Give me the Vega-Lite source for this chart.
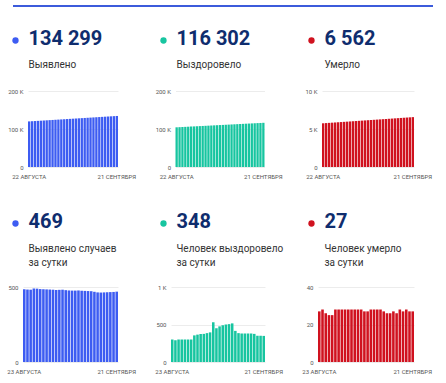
{
  "$schema": "https://vega.github.io/schema/vega-lite/v6.json",
  "background": "white",
  "padding": {"left": 6, "top": 3, "right": 5, "bottom": 5},
  "columns": 1,
  "spacing": 33,
  "resolve": {"scale": {"color": "independent"}, "legend": {"color": "independent"}},
  "config": {
    "font": "Roboto",
    "view": {"stroke": null},
    "axis": {"domain": false, "ticks": false, "labelFont": "Roboto", "labelFontSize": 6, "labelColor": "#555555", "gridColor": "#ececec", "title": null},
    "axisX": {"grid": false, "labelAngle": 0, "labelPadding": 6, "labelOverlap": false},
    "axisY": {"labelPadding": 5},
    "title": {"anchor": "start", "frame": "group", "font": "Roboto", "fontSize": 20, "fontWeight": "bold", "color": "#0f2d6e", "subtitleFont": "Roboto", "subtitleFontSize": 10, "subtitleColor": "#333333", "subtitlePadding": 11, "subtitleLineHeight": 14},
    "legend": {"symbolType": "circle", "symbolSize": 40, "symbolStrokeWidth": 0, "padding": 0, "orient": "none"}
  },
  "concat": [
    {
      "columns": 1,
      "spacing": 20,
      "resolve": {"scale": {"color": "independent"}, "legend": {"color": "independent"}},
      "concat": [
        {"width": 420, "height": 2, "data": {"values": [{}]}, "mark": {"type": "point", "opacity": 0}, "encoding": {}, "view": {"fill": "#3c5bdb", "stroke": null}},
        {
          "bounds": "flush",
          "spacing": 0,
          "resolve": {"scale": {"color": "independent"}, "legend": {"color": "independent"}},
          "hconcat": [
            {"width": 15, "height": 2, "data": {"values": [{}]}, "mark": {"type": "point", "opacity": 0}, "encoding": {}},
            {
              "bounds": "flush",
              "spacing": 57.5,
              "resolve": {"scale": {"color": "independent"}, "legend": {"color": "independent"}},
              "hconcat": [
                {
                  "width": 90, "height": 76,
                  "title": {"text": "134 299", "subtitle": "Выявлено", "offset": -33, "dx": 0.5},
                  "data": {"values": [
                    {"d": "08-22", "v": 120000}, {"d": "08-23", "v": 120477}, {"d": "08-24", "v": 120953}, {"d": "08-25", "v": 121430},
                    {"d": "08-26", "v": 121906}, {"d": "08-27", "v": 122383}, {"d": "08-28", "v": 122860}, {"d": "08-29", "v": 123336},
                    {"d": "08-30", "v": 123813}, {"d": "08-31", "v": 124289}, {"d": "09-01", "v": 124766}, {"d": "09-02", "v": 125243},
                    {"d": "09-03", "v": 125719}, {"d": "09-04", "v": 126196}, {"d": "09-05", "v": 126672}, {"d": "09-06", "v": 127149},
                    {"d": "09-07", "v": 127626}, {"d": "09-08", "v": 128102}, {"d": "09-09", "v": 128579}, {"d": "09-10", "v": 129055},
                    {"d": "09-11", "v": 129532}, {"d": "09-12", "v": 130009}, {"d": "09-13", "v": 130485}, {"d": "09-14", "v": 130962},
                    {"d": "09-15", "v": 131438}, {"d": "09-16", "v": 131915}, {"d": "09-17", "v": 132392}, {"d": "09-18", "v": 132868},
                    {"d": "09-19", "v": 133345}, {"d": "09-20", "v": 133821}, {"d": "09-21", "v": 134299}
                  ]},
                  "mark": {"type": "bar"},
                  "encoding": {
                    "x": {"field": "d", "type": "ordinal", "scale": {"paddingInner": 0.2, "paddingOuter": 0}, "axis": {"values": ["08-22", "09-21"], "labelExpr": "datum.value == '08-22' ? '22 АВГУСТА' : '21 СЕНТЯБРЯ'"}},
                    "y": {"field": "v", "type": "quantitative", "scale": {"domain": [0, 200000]}, "axis": {"values": [0, 100000, 200000], "labelExpr": "datum.value >= 1000 ? (datum.value / 1000) + ' K' : datum.value"}},
                    "color": {"datum": "Выявлено", "scale": {"range": ["#3d5cf2"]}, "legend": {"title": null, "labelExpr": "''", "labelFontSize": 1, "labelOffset": 0, "legendX": -16, "legendY": -54}}
                  }
                },
                {
                  "width": 89, "height": 76,
                  "title": {"text": "116 302", "subtitle": "Выздоровело", "offset": -33, "dx": 1},
                  "data": {"values": [
                    {"d": "08-22", "v": 104450}, {"d": "08-23", "v": 104845}, {"d": "08-24", "v": 105240}, {"d": "08-25", "v": 105635},
                    {"d": "08-26", "v": 106030}, {"d": "08-27", "v": 106426}, {"d": "08-28", "v": 106821}, {"d": "08-29", "v": 107216},
                    {"d": "08-30", "v": 107611}, {"d": "08-31", "v": 108006}, {"d": "09-01", "v": 108401}, {"d": "09-02", "v": 108796},
                    {"d": "09-03", "v": 109191}, {"d": "09-04", "v": 109586}, {"d": "09-05", "v": 109981}, {"d": "09-06", "v": 110376},
                    {"d": "09-07", "v": 110772}, {"d": "09-08", "v": 111167}, {"d": "09-09", "v": 111562}, {"d": "09-10", "v": 111957},
                    {"d": "09-11", "v": 112352}, {"d": "09-12", "v": 112747}, {"d": "09-13", "v": 113142}, {"d": "09-14", "v": 113537},
                    {"d": "09-15", "v": 113932}, {"d": "09-16", "v": 114327}, {"d": "09-17", "v": 114722}, {"d": "09-18", "v": 115117},
                    {"d": "09-19", "v": 115512}, {"d": "09-20", "v": 115907}, {"d": "09-21", "v": 116302}
                  ]},
                  "mark": {"type": "bar"},
                  "encoding": {
                    "x": {"field": "d", "type": "ordinal", "scale": {"paddingInner": 0.2, "paddingOuter": 0}, "axis": {"values": ["08-22", "09-21"], "labelExpr": "datum.value == '08-22' ? '22 АВГУСТА' : '21 СЕНТЯБРЯ'"}},
                    "y": {"field": "v", "type": "quantitative", "scale": {"domain": [0, 200000]}, "axis": {"values": [0, 100000, 200000], "labelExpr": "datum.value >= 1000 ? (datum.value / 1000) + ' K' : datum.value"}},
                    "color": {"datum": "Выздоровело", "scale": {"range": ["#17c5a0"]}, "legend": {"title": null, "labelExpr": "''", "labelFontSize": 1, "labelOffset": 0, "legendX": -15.5, "legendY": -54}}
                  }
                },
                {
                  "width": 92, "height": 76,
                  "title": {"text": "6 562", "subtitle": "Умерло", "offset": -33, "dx": 2.5},
                  "data": {"values": [
                    {"d": "08-22", "v": 5752}, {"d": "08-23", "v": 5779}, {"d": "08-24", "v": 5806}, {"d": "08-25", "v": 5833},
                    {"d": "08-26", "v": 5860}, {"d": "08-27", "v": 5887}, {"d": "08-28", "v": 5914}, {"d": "08-29", "v": 5941},
                    {"d": "08-30", "v": 5968}, {"d": "08-31", "v": 5995}, {"d": "09-01", "v": 6022}, {"d": "09-02", "v": 6049},
                    {"d": "09-03", "v": 6076}, {"d": "09-04", "v": 6103}, {"d": "09-05", "v": 6130}, {"d": "09-06", "v": 6157},
                    {"d": "09-07", "v": 6184}, {"d": "09-08", "v": 6211}, {"d": "09-09", "v": 6238}, {"d": "09-10", "v": 6265},
                    {"d": "09-11", "v": 6292}, {"d": "09-12", "v": 6319}, {"d": "09-13", "v": 6346}, {"d": "09-14", "v": 6373},
                    {"d": "09-15", "v": 6400}, {"d": "09-16", "v": 6427}, {"d": "09-17", "v": 6454}, {"d": "09-18", "v": 6481},
                    {"d": "09-19", "v": 6508}, {"d": "09-20", "v": 6535}, {"d": "09-21", "v": 6562}
                  ]},
                  "mark": {"type": "bar"},
                  "encoding": {
                    "x": {"field": "d", "type": "ordinal", "scale": {"paddingInner": 0.2, "paddingOuter": 0}, "axis": {"values": ["08-22", "09-21"], "labelExpr": "datum.value == '08-22' ? '22 АВГУСТА' : '21 СЕНТЯБРЯ'"}},
                    "y": {"field": "v", "type": "quantitative", "scale": {"domain": [0, 10000]}, "axis": {"values": [0, 5000, 10000], "labelExpr": "datum.value >= 1000 ? (datum.value / 1000) + ' K' : datum.value"}},
                    "color": {"datum": "Умерло", "scale": {"range": ["#d0121f"]}, "legend": {"title": null, "labelExpr": "''", "labelFontSize": 1, "labelOffset": 0, "legendX": -14, "legendY": -54}}
                  }
                }
              ]
            }
          ]
        }
      ]
    },
    {
      "bounds": "flush",
      "spacing": 0,
      "resolve": {"scale": {"color": "independent"}, "legend": {"color": "independent"}},
      "hconcat": [
        {"width": 10, "height": 2, "data": {"values": [{}]}, "mark": {"type": "point", "opacity": 0}, "encoding": {}},
        {
          "bounds": "flush",
          "spacing": 53,
          "resolve": {"scale": {"color": "independent"}, "legend": {"color": "independent"}},
          "hconcat": [
            {
              "width": 95, "height": 75,
              "title": {"text": "469", "subtitle": ["Выявлено случаев", "за сутки"], "offset": -48, "dx": 5.5, "subtitlePadding": 12},
              "data": {"values": [
                {"d": "08-23", "v": 485}, {"d": "08-24", "v": 483}, {"d": "08-25", "v": 482}, {"d": "08-26", "v": 490},
                {"d": "08-27", "v": 489}, {"d": "08-28", "v": 486}, {"d": "08-29", "v": 485}, {"d": "08-30", "v": 484},
                {"d": "08-31", "v": 483}, {"d": "09-01", "v": 482}, {"d": "09-02", "v": 480}, {"d": "09-03", "v": 481},
                {"d": "09-04", "v": 482}, {"d": "09-05", "v": 479}, {"d": "09-06", "v": 477}, {"d": "09-07", "v": 476},
                {"d": "09-08", "v": 476}, {"d": "09-09", "v": 477}, {"d": "09-10", "v": 475}, {"d": "09-11", "v": 474},
                {"d": "09-12", "v": 473}, {"d": "09-13", "v": 472}, {"d": "09-14", "v": 468}, {"d": "09-15", "v": 464},
                {"d": "09-16", "v": 463}, {"d": "09-17", "v": 464}, {"d": "09-18", "v": 465}, {"d": "09-19", "v": 466},
                {"d": "09-20", "v": 467}, {"d": "09-21", "v": 469}
              ]},
              "mark": {"type": "bar"},
              "encoding": {
                "x": {"field": "d", "type": "ordinal", "scale": {"paddingInner": 0.2, "paddingOuter": 0}, "axis": {"values": ["08-23", "09-21"], "labelExpr": "datum.value == '08-23' ? '23 АВГУСТА' : '21 СЕНТЯБРЯ'"}},
                "y": {"field": "v", "type": "quantitative", "scale": {"domain": [0, 500]}, "axis": {"values": [0, 500], "labelExpr": "datum.value >= 1000 ? (datum.value / 1000) + ' K' : datum.value"}},
                "color": {"datum": "Выявлено случаев за сутки", "scale": {"range": ["#3d5cf2"]}, "legend": {"title": null, "labelExpr": "''", "labelFontSize": 1, "labelOffset": 0, "legendX": -11, "legendY": -67}}
              }
            },
            {
              "width": 94, "height": 75,
              "title": {"text": "348", "subtitle": ["Человек выздоровело", "за сутки"], "offset": -48, "dx": 5.5, "subtitlePadding": 12},
              "data": {"values": [
                {"d": "08-23", "v": 300}, {"d": "08-24", "v": 290}, {"d": "08-25", "v": 300}, {"d": "08-26", "v": 300},
                {"d": "08-27", "v": 300}, {"d": "08-28", "v": 300}, {"d": "08-29", "v": 300}, {"d": "08-30", "v": 355},
                {"d": "08-31", "v": 365}, {"d": "09-01", "v": 375}, {"d": "09-02", "v": 375}, {"d": "09-03", "v": 385},
                {"d": "09-04", "v": 395}, {"d": "09-05", "v": 530}, {"d": "09-06", "v": 450}, {"d": "09-07", "v": 475},
                {"d": "09-08", "v": 490}, {"d": "09-09", "v": 500}, {"d": "09-10", "v": 505}, {"d": "09-11", "v": 515},
                {"d": "09-12", "v": 415}, {"d": "09-13", "v": 385}, {"d": "09-14", "v": 380}, {"d": "09-15", "v": 380},
                {"d": "09-16", "v": 380}, {"d": "09-17", "v": 380}, {"d": "09-18", "v": 375}, {"d": "09-19", "v": 350},
                {"d": "09-20", "v": 350}, {"d": "09-21", "v": 348}
              ]},
              "mark": {"type": "bar"},
              "encoding": {
                "x": {"field": "d", "type": "ordinal", "scale": {"paddingInner": 0.2, "paddingOuter": 0}, "axis": {"values": ["08-23", "09-21"], "labelExpr": "datum.value == '08-23' ? '23 АВГУСТА' : '21 СЕНТЯБРЯ'"}},
                "y": {"field": "v", "type": "quantitative", "scale": {"domain": [0, 1000]}, "axis": {"values": [0, 500, 1000], "labelExpr": "datum.value >= 1000 ? (datum.value / 1000) + ' K' : datum.value"}},
                "color": {"datum": "Человек выздоровело за сутки", "scale": {"range": ["#17c5a0"]}, "legend": {"title": null, "labelExpr": "''", "labelFontSize": 1, "labelOffset": 0, "legendX": -11, "legendY": -67}}
              }
            },
            {
              "width": 96, "height": 75,
              "title": {"text": "27", "subtitle": ["Человек умерло", "за сутки"], "offset": -48, "dx": 6.5, "subtitlePadding": 12},
              "data": {"values": [
                {"d": "08-23", "v": 27}, {"d": "08-24", "v": 28}, {"d": "08-25", "v": 26}, {"d": "08-26", "v": 25},
                {"d": "08-27", "v": 25}, {"d": "08-28", "v": 28}, {"d": "08-29", "v": 28}, {"d": "08-30", "v": 28},
                {"d": "08-31", "v": 28}, {"d": "09-01", "v": 28}, {"d": "09-02", "v": 28}, {"d": "09-03", "v": 28},
                {"d": "09-04", "v": 28}, {"d": "09-05", "v": 28}, {"d": "09-06", "v": 27}, {"d": "09-07", "v": 27},
                {"d": "09-08", "v": 28}, {"d": "09-09", "v": 28}, {"d": "09-10", "v": 28}, {"d": "09-11", "v": 28},
                {"d": "09-12", "v": 27}, {"d": "09-13", "v": 26}, {"d": "09-14", "v": 26}, {"d": "09-15", "v": 27},
                {"d": "09-16", "v": 26}, {"d": "09-17", "v": 28}, {"d": "09-18", "v": 27}, {"d": "09-19", "v": 28},
                {"d": "09-20", "v": 27}, {"d": "09-21", "v": 27}
              ]},
              "mark": {"type": "bar"},
              "encoding": {
                "x": {"field": "d", "type": "ordinal", "scale": {"paddingInner": 0.2, "paddingOuter": 0}, "axis": {"values": ["08-23", "09-21"], "labelExpr": "datum.value == '08-23' ? '23 АВГУСТА' : '21 СЕНТЯБРЯ'"}},
                "y": {"field": "v", "type": "quantitative", "scale": {"domain": [0, 40]}, "axis": {"values": [0, 20, 40], "labelExpr": "datum.value >= 1000 ? (datum.value / 1000) + ' K' : datum.value"}},
                "color": {"datum": "Человек умерло за сутки", "scale": {"range": ["#d0121f"]}, "legend": {"title": null, "labelExpr": "''", "labelFontSize": 1, "labelOffset": 0, "legendX": -10, "legendY": -67}}
              }
            }
          ]
        }
      ]
    }
  ]
}
